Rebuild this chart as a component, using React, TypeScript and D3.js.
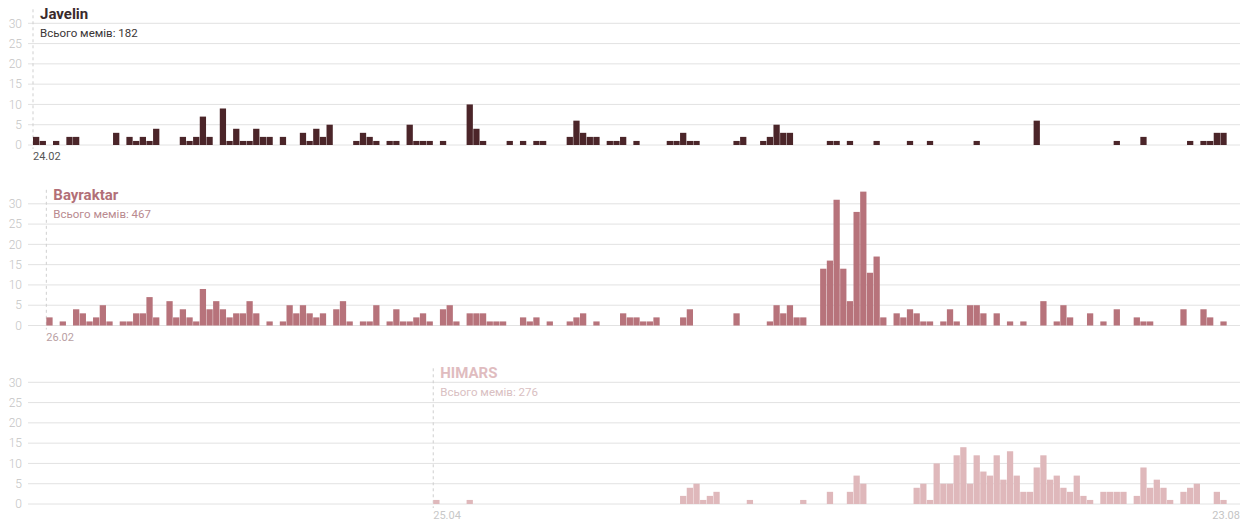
import React from "react";
import * as d3 from "d3";

// daily meme counts, 24.02 → 23.08 (181 days)
const javelin = [
  2, 1, 0, 1, 0, 2, 2, 0, 0, 0,
  0, 0, 3, 0, 2, 1, 2, 1, 4, 0,
  0, 0, 2, 1, 2, 7, 2, 0, 9, 1,
  4, 1, 1, 4, 2, 2, 0, 2, 0, 0,
  3, 1, 4, 2, 5, 0, 0, 0, 1, 3,
  2, 1, 0, 1, 1, 0, 5, 1, 1, 1,
  0, 1, 0, 0, 0, 10, 4, 1, 0, 0,
  0, 1, 0, 1, 0, 1, 1, 0, 0, 0,
  2, 6, 3, 2, 2, 0, 1, 1, 2, 0,
  1, 0, 0, 0, 0, 1, 1, 3, 1, 1,
  0, 0, 0, 0, 0, 1, 2, 0, 0, 1,
  2, 5, 3, 3, 0, 0, 0, 0, 0, 1,
  1, 0, 1, 0, 0, 0, 1, 0, 0, 0,
  0, 1, 0, 0, 1, 0, 0, 0, 0, 0,
  0, 1, 0, 0, 0, 0, 0, 0, 0, 0,
  6, 0, 0, 0, 0, 0, 0, 0, 0, 0,
  0, 0, 1, 0, 0, 0, 2, 0, 0, 0,
  0, 0, 0, 1, 0, 1, 1, 3, 3, 0,
  0,
];

const bayraktar = [
  0, 0, 2, 0, 1, 0, 4, 3, 1, 2,
  5, 1, 0, 1, 1, 3, 3, 7, 2, 0,
  6, 2, 4, 2, 1, 9, 4, 6, 4, 2,
  3, 3, 6, 3, 0, 1, 0, 1, 5, 3,
  5, 3, 2, 3, 0, 4, 6, 1, 0, 1,
  1, 5, 0, 1, 4, 1, 1, 2, 3, 1,
  0, 4, 5, 1, 0, 3, 3, 3, 1, 1,
  1, 0, 0, 2, 1, 2, 0, 1, 0, 0,
  1, 2, 3, 0, 1, 0, 0, 0, 3, 2,
  2, 1, 1, 2, 0, 0, 0, 2, 4, 0,
  0, 0, 0, 0, 0, 3, 0, 0, 0, 0,
  1, 5, 3, 5, 2, 2, 0, 0, 14, 16,
  31, 14, 6, 28, 33, 13, 17, 2, 0, 3,
  2, 4, 3, 1, 1, 0, 1, 4, 1, 0,
  5, 5, 3, 0, 3, 0, 1, 0, 1, 0,
  0, 6, 0, 1, 5, 2, 0, 0, 3, 0,
  1, 0, 4, 0, 0, 2, 1, 1, 0, 0,
  0, 0, 4, 0, 0, 4, 2, 0, 1, 0,
  0,
];

const himars = [
  0, 0, 0, 0, 0, 0, 0, 0, 0, 0,
  0, 0, 0, 0, 0, 0, 0, 0, 0, 0,
  0, 0, 0, 0, 0, 0, 0, 0, 0, 0,
  0, 0, 0, 0, 0, 0, 0, 0, 0, 0,
  0, 0, 0, 0, 0, 0, 0, 0, 0, 0,
  0, 0, 0, 0, 0, 0, 0, 0, 0, 0,
  1, 0, 0, 0, 0, 1, 0, 0, 0, 0,
  0, 0, 0, 0, 0, 0, 0, 0, 0, 0,
  0, 0, 0, 0, 0, 0, 0, 0, 0, 0,
  0, 0, 0, 0, 0, 0, 0, 2, 4, 5,
  1, 2, 3, 0, 0, 0, 0, 1, 0, 0,
  0, 0, 0, 0, 0, 1, 0, 0, 0, 3,
  0, 0, 3, 7, 5, 0, 0, 0, 0, 0,
  0, 0, 4, 5, 1, 10, 5, 5, 12, 14,
  5, 12, 8, 7, 12, 6, 13, 7, 3, 3,
  9, 12, 6, 7, 4, 3, 7, 2, 1, 0,
  3, 3, 3, 3, 0, 2, 9, 4, 6, 4,
  1, 0, 3, 4, 5, 0, 0, 3, 1, 0,
  0,
];

const names = ["Javelin", "Bayraktar", "HIMARS"];
const startLabels = ["24.02", "26.02", "25.04"];
const endLabel = "23.08";
const yTicks = [0, 5, 10, 15, 20, 25, 30];

const FONT = "Roboto, 'Noto Sans', sans-serif";

const panels = [
  { name: names[0], values: javelin, start: startLabels[0], bar: "#4b2529", title: "#3a2a2c", sub: "#3a3536", date: "#555" },
  { name: names[1], values: bayraktar, start: startLabels[1], bar: "#b7737b", title: "#b26f77", sub: "#b98a8f", date: "#b9a0a3" },
  { name: names[2], values: himars, start: startLabels[2], bar: "#dfb8bb", title: "#e0bcbf", sub: "#d9c0c2", date: "#c8c8c8" },
];

const days = d3.timeDay.range(new Date(2022, 1, 24), new Date(2022, 7, 24));
const fmt = d3.timeFormat("%d.%m");

const x = d3.scaleBand<string>()
  .domain(days.map(fmt))
  .range([33, 1240])
  .paddingInner(0.06)
  .paddingOuter(0);

const panelOffsets = [0, 180.5, 359];

const Panel = ({ p, offset }: { p: typeof panels[number]; offset: number }) => {
  const y = d3.scaleLinear().domain([0, 30]).range([145 + offset, 23.3 + offset]);
  const total = d3.sum(p.values);
  const sx = x(p.start) ?? 0;
  return (
    <g>
      {yTicks.map((t) => (
        <g key={t}>
          <line x1={28} x2={1240} y1={y(t)} y2={y(t)} stroke="#e2e2e2" strokeWidth={1} />
          <text x={22} y={y(t)} dy="0.35em" textAnchor="end" fontSize={12} fontWeight={300} fill="#c4c4c4" fontFamily={FONT}>
            {t}
          </text>
        </g>
      ))}
      <line x1={sx} x2={sx} y1={y(30) - 14} y2={y(0) + 4} stroke="#cfcfcf" strokeDasharray="3,3" />
      {p.values.map((v, i) =>
        v > 0 ? (
          <rect
            key={i}
            x={x(fmt(days[i]))}
            y={y(v)}
            width={x.bandwidth()}
            height={y(0) - y(v)}
            fill={p.bar}
          />
        ) : null
      )}
      <text x={sx + 7} y={y(30) - 4} fontSize={15} fontWeight={700} fill={p.title} fontFamily={FONT}>
        {p.name}
      </text>
      <text x={sx + 7} y={y(30) + 14} fontSize={11.5} fill={p.sub} fontFamily={FONT}>
        {`Всього мемів: ${total}`}
      </text>
      <text x={sx} y={y(0) + 15} fontSize={11} fill={p.date} fontFamily={FONT}>
        {p.start}
      </text>
    </g>
  );
};

export default function App() {
  return (
    <svg width={1254} height={526} style={{ position: "absolute", left: 0, top: 0, background: "#fff" }}>
      {panels.map((p, i) => (
        <Panel key={p.name} p={p} offset={panelOffsets[i]} />
      ))}
      <text x={1240} y={145 + panelOffsets[2] + 15} textAnchor="end" fontSize={11} fill="#c4c4c4" fontFamily={FONT}>
        {endLabel}
      </text>
    </svg>
  );
}
